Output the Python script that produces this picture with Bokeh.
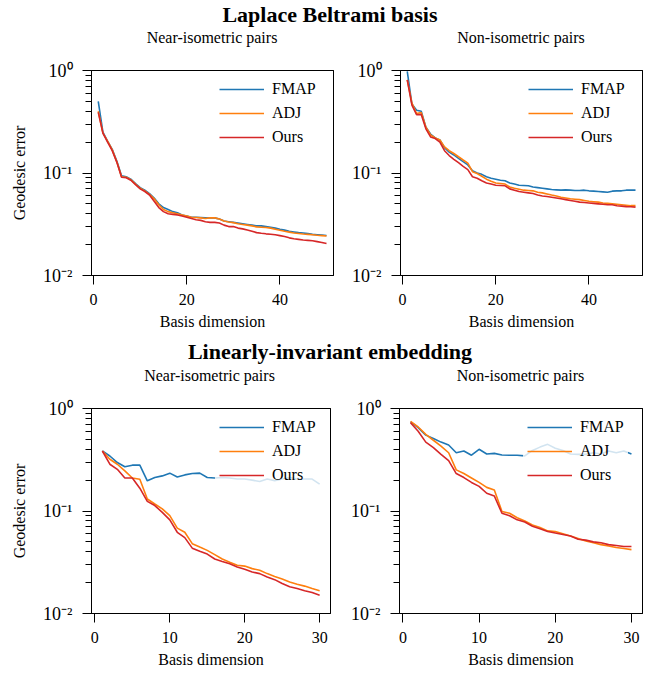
from bokeh.plotting import figure
from bokeh.models import (Range1d, SingleIntervalTicker, FixedTicker, CustomJSTickFormatter, Div,
                          LinearAxis, LogAxis)
from bokeh.layouts import column, row
from bokeh.embed import file_html
from bokeh.resources import INLINE

FONT = "Liberation Serif"
C_FMAP = "#1f77b4"
C_ADJ = "#ff7f0e"
C_OURS = "#d62728"

# ---------------- data ----------------
dims_lb = list(range(1, 51))
dims_lie = list(range(1, 31))

lb_near_fmap = [0.50, 0.25, 0.205, 0.17, 0.13, 0.094, 0.092, 0.087, 0.079, 0.072,
                0.068, 0.063, 0.057, 0.050, 0.046, 0.044, 0.042, 0.041, 0.039, 0.038,
                0.037, 0.037, 0.0368, 0.0366, 0.0364, 0.0365, 0.0355, 0.034, 0.0335, 0.0330,
                0.0325, 0.032, 0.0315, 0.031, 0.0305, 0.0305, 0.030, 0.0295, 0.029, 0.0283,
                0.0277, 0.027, 0.0266, 0.0262, 0.026, 0.0256, 0.0252, 0.025, 0.0248, 0.0246]
lb_near_adj = [0.40, 0.245, 0.205, 0.168, 0.128, 0.092, 0.091, 0.086, 0.078, 0.071,
               0.067, 0.062, 0.056, 0.049, 0.044, 0.042, 0.041, 0.040, 0.039, 0.038,
               0.037, 0.0368, 0.0365, 0.036, 0.0365, 0.0365, 0.0355, 0.034, 0.0333, 0.0328,
               0.032, 0.0315, 0.031, 0.0305, 0.0298, 0.0296, 0.0294, 0.029, 0.0283, 0.0276,
               0.027, 0.0265, 0.026, 0.0257, 0.0254, 0.0252, 0.025, 0.0247, 0.0245, 0.0243]
lb_near_ours = [0.39, 0.245, 0.20, 0.165, 0.127, 0.091, 0.090, 0.085, 0.077, 0.070,
                0.066, 0.061, 0.053, 0.046, 0.042, 0.040, 0.0395, 0.039, 0.038, 0.037,
                0.036, 0.035, 0.0345, 0.0335, 0.033, 0.033, 0.0325, 0.031, 0.030, 0.030,
                0.029, 0.0285, 0.0278, 0.027, 0.0262, 0.0258, 0.0255, 0.0253, 0.025, 0.0245,
                0.024, 0.0233, 0.0228, 0.0225, 0.0222, 0.022, 0.0218, 0.0214, 0.021, 0.0205]

lb_non_fmap = [0.98, 0.47, 0.41, 0.40, 0.28, 0.24, 0.22, 0.21, 0.177, 0.16,
               0.15, 0.139, 0.129, 0.12, 0.105, 0.10, 0.097, 0.092, 0.089, 0.087,
               0.085, 0.084, 0.080, 0.078, 0.076, 0.0755, 0.075, 0.073, 0.072, 0.071,
               0.070, 0.069, 0.0685, 0.068, 0.0685, 0.068, 0.0675, 0.0675, 0.068, 0.067,
               0.0665, 0.066, 0.0655, 0.065, 0.0665, 0.067, 0.067, 0.068, 0.068, 0.068]
lb_non_adj = [0.81, 0.48, 0.38, 0.39, 0.28, 0.235, 0.22, 0.21, 0.18, 0.165,
              0.155, 0.144, 0.134, 0.125, 0.103, 0.099, 0.093, 0.087, 0.083, 0.080,
              0.079, 0.078, 0.073, 0.071, 0.0695, 0.068, 0.0675, 0.067, 0.065, 0.064,
              0.0625, 0.061, 0.0597, 0.058, 0.057, 0.056, 0.0555, 0.055, 0.054, 0.053,
              0.0525, 0.052, 0.051, 0.0505, 0.050, 0.0495, 0.049, 0.0485, 0.048, 0.048]
lb_non_ours = [0.81, 0.46, 0.37, 0.373, 0.27, 0.225, 0.217, 0.20, 0.165, 0.148,
               0.136, 0.126, 0.116, 0.108, 0.092, 0.089, 0.084, 0.080, 0.078, 0.076,
               0.0755, 0.075, 0.070, 0.068, 0.066, 0.065, 0.064, 0.063, 0.061, 0.0597,
               0.059, 0.058, 0.057, 0.056, 0.055, 0.054, 0.053, 0.052, 0.0515, 0.051,
               0.0505, 0.050, 0.0495, 0.049, 0.049, 0.048, 0.0475, 0.047, 0.0468, 0.0465]

lie_near_fmap = [0.385, 0.344, 0.297, 0.27, 0.28, 0.28, 0.197, 0.212, 0.22, 0.234,
                 0.215, 0.225, 0.232, 0.234, 0.212, 0.21, 0.212, 0.21, 0.205, 0.205,
                 0.20, 0.194, 0.205, 0.198, 0.205, 0.212, 0.205, 0.205, 0.205, 0.183]
lie_near_adj = [0.385, 0.32, 0.286, 0.246, 0.21, 0.204, 0.131, 0.117, 0.105, 0.09,
                0.068, 0.062, 0.048, 0.0445, 0.0413, 0.0375, 0.034, 0.0317, 0.0296, 0.029,
                0.0274, 0.0264, 0.0245, 0.023, 0.0217, 0.0203, 0.0193, 0.0185, 0.0175, 0.0167]
lie_near_ours = [0.385, 0.286, 0.255, 0.21, 0.21, 0.167, 0.124, 0.113, 0.097, 0.082,
                 0.062, 0.055, 0.0434, 0.0405, 0.038, 0.034, 0.0322, 0.0306, 0.0284, 0.027,
                 0.0254, 0.0245, 0.0227, 0.0214, 0.0196, 0.0182, 0.0175, 0.0167, 0.016, 0.0151]

lie_non_fmap = [0.74, 0.65, 0.55, 0.51, 0.47, 0.44, 0.37, 0.385, 0.35, 0.40,
                0.36, 0.365, 0.352, 0.35, 0.35, 0.345, 0.39, 0.42, 0.447, 0.41,
                0.39, 0.36, 0.357, 0.357, 0.37, 0.36, 0.385, 0.37, 0.385, 0.36]
lie_non_adj = [0.75, 0.66, 0.56, 0.49, 0.43, 0.37, 0.252, 0.232, 0.21, 0.19,
               0.17, 0.16, 0.099, 0.095, 0.086, 0.08, 0.073, 0.069, 0.064, 0.063,
               0.06, 0.057, 0.054, 0.051, 0.049, 0.047, 0.0455, 0.044, 0.043, 0.042]
lie_non_ours = [0.725, 0.6, 0.47, 0.415, 0.357, 0.31, 0.232, 0.212, 0.19, 0.174,
                0.149, 0.14, 0.095, 0.09, 0.082, 0.078, 0.071, 0.067, 0.063, 0.061,
                0.059, 0.057, 0.053, 0.052, 0.05, 0.049, 0.047, 0.046, 0.045, 0.045]

section_titles = ["Laplace Beltrami basis", "Linearly-invariant embedding"]
subtitles = ["Near-isometric pairs", "Non-isometric pairs"]
series_names = ["FMAP", "ADJ", "Ours"]
y_major_ticks = [0.01, 0.1, 1.0]
y_minor_ticks = [m * d for d in (0.01, 0.1) for m in range(2, 10)]

SUP = {"-": "\u207b", "0": "\u2070", "1": "\u00b9", "2": "\u00b2", "3": "\u00b3",
       "4": "\u2074", "5": "\u2075", "6": "\u2076", "7": "\u2077", "8": "\u2078", "9": "\u2079"}
js_map = "{" + ",".join('"%s":"%s"' % (k, v) for k, v in SUP.items()) + "}"
ylog_fmt_code = """
const e = Math.round(Math.log10(tick));
const m = %s;
return "10" + String(e).split("").map(c => m[c]).join("");
""" % js_map


def frame_axis(ax):
    ax.axis_line_color = "black"
    ax.axis_line_width = 1
    ax.major_tick_line_color = None
    ax.minor_tick_line_color = None
    ax.major_tick_out = 0
    ax.minor_tick_out = 0
    ax.major_tick_in = 0
    ax.minor_tick_in = 0
    ax.major_label_text_font_size = "0px"
    ax.major_label_standoff = 0
    ax.axis_label_standoff = 0
    ax.ticker = FixedTicker(ticks=[])


def make_panel(x, ys, xmax, interval, width, bl, br, ylabel):
    p = figure(width=width, height=284, y_axis_type="log",
               x_range=Range1d(-0.45, xmax), y_range=Range1d(0.01, 1.0),
               output_backend="svg", toolbar_location=None,
               min_border_left=bl, min_border_right=br,
               min_border_top=22, min_border_bottom=56)
    p.background_fill_color = None
    p.border_fill_color = "white"
    p.outline_line_color = "black"
    p.outline_line_width = 1
    p.grid.visible = False

    for y, name, col in zip(ys, series_names, [C_FMAP, C_ADJ, C_OURS]):
        p.line(x, y, line_color=col, line_width=1.6, legend_label=name)

    p.xaxis.ticker = SingleIntervalTicker(interval=interval)
    p.yaxis.ticker = FixedTicker(ticks=y_major_ticks, minor_ticks=y_minor_ticks)
    p.yaxis.formatter = CustomJSTickFormatter(code=ylog_fmt_code)

    for ax in p.axis:
        ax.axis_line_color = "black"
        ax.axis_line_width = 1
        ax.major_tick_in = 0
        ax.minor_tick_in = 0
        ax.major_tick_out = 9
        ax.minor_tick_out = 6
        ax.major_tick_line_color = "black"
        ax.minor_tick_line_color = "black"
        ax.major_label_text_font = FONT
        ax.major_label_text_font_size = "16px"
        ax.major_label_text_color = "black"
        ax.axis_label_text_font = FONT
        ax.axis_label_text_font_size = "16px"
        ax.axis_label_text_font_style = "normal"
        ax.axis_label_text_color = "black"
    p.xaxis.minor_tick_line_color = None
    p.xaxis.major_label_standoff = 9
    p.xaxis.axis_label_standoff = 5
    p.xaxis.axis_label = "Basis dimension"
    p.yaxis.major_label_text_font_size = "18px"
    p.yaxis.major_label_standoff = 10
    p.yaxis.axis_label_standoff = 12
    if ylabel:
        p.yaxis.axis_label = ylabel

    top_ax = LinearAxis()
    frame_axis(top_ax)
    p.add_layout(top_ax, "above")
    right_ax = LogAxis()
    frame_axis(right_ax)
    p.add_layout(right_ax, "right")

    lg = p.legend[0]
    lg.location = (124, 124)
    lg.background_fill_color = "white"
    lg.background_fill_alpha = 0.8
    lg.border_line_alpha = 0
    lg.label_text_font = FONT
    lg.label_text_font_size = "16px"
    lg.label_text_color = "black"
    lg.glyph_width = 45
    lg.glyph_height = 20
    lg.label_height = 20
    lg.spacing = 4
    lg.padding = 4
    lg.margin = 0
    lg.label_standoff = 8
    return p


def title_div(text, height, top, lh):
    return Div(text=('<div style="width:644px;text-align:center;font-family:\'%s\';'
                     'font-weight:bold;font-size:22px;line-height:%dpx;margin-top:%dpx;'
                     'color:black;white-space:nowrap;">%s</div>') % (FONT, lh, top, text),
               width=644, height=height, margin=(0, 0, 0, 0))


def sub_div(text, width, left, frame_w):
    return Div(text=('<div style="margin-left:%dpx;width:%dpx;text-align:center;'
                     'font-family:\'%s\';font-size:16px;line-height:20px;color:black;'
                     'white-space:nowrap;">%s</div>') % (left, frame_w, FONT, text),
               width=width, height=20, margin=(0, 0, 0, 0))


p1 = make_panel(dims_lb, [lb_near_fmap, lb_near_adj, lb_near_ours], 51.5, 20, 332, 83, 7, "Geodesic error")
p2 = make_panel(dims_lb, [lb_non_fmap, lb_non_adj, lb_non_ours], 51.5, 20, 312, 60, 10, None)
p3 = make_panel(dims_lie, [lie_near_fmap, lie_near_adj, lie_near_ours], 31.45, 10, 332, 81, 10, "Geodesic error")
p4 = make_panel(dims_lie, [lie_non_fmap, lie_non_adj, lie_non_ours], 31.45, 10, 312, 59, 10, None)

layout = column(
    title_div(section_titles[0], 20, 0, 14),
    row(sub_div(subtitles[0], 332, 83, 242), sub_div(subtitles[1], 312, 60, 242)),
    row(p1, p2),
    title_div(section_titles[1], 34, 10, 20),
    row(sub_div(subtitles[0], 332, 81, 241), sub_div(subtitles[1], 312, 59, 243)),
    row(p3, p4),
    margin=(8, 0, 0, 8),
)

open("out.html", "w").write(file_html(layout, INLINE))
